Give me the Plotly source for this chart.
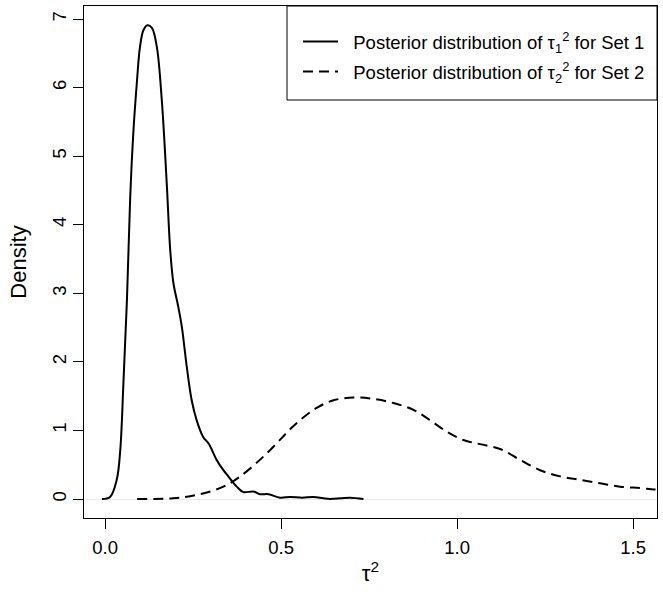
import plotly.graph_objects as go

# posterior density of tau^2, set 1
tau1_x = [-0.009, 0.014, 0.033, 0.043, 0.052, 0.062, 0.071, 0.080, 0.090, 0.099,
          0.109, 0.120, 0.133, 0.147, 0.161, 0.175, 0.185, 0.194, 0.208, 0.218,
          0.232, 0.246, 0.260, 0.279, 0.294, 0.317, 0.336, 0.350, 0.374, 0.393,
          0.421, 0.440, 0.464, 0.497, 0.526, 0.560, 0.592, 0.620, 0.639, 0.670,
          0.696, 0.734]
tau1_y = [0.00, 0.03, 0.28, 0.71, 1.69, 2.90, 4.36, 5.33, 6.06, 6.59,
          6.84, 6.91, 6.87, 6.59, 5.82, 4.61, 3.63, 3.15, 2.80, 2.51,
          1.93, 1.44, 1.15, 0.90, 0.81, 0.57, 0.42, 0.33, 0.18, 0.10,
          0.11, 0.07, 0.07, 0.02, 0.03, 0.02, 0.03, 0.01, 0.00, 0.01,
          0.02, 0.00]

# posterior density of tau^2, set 2
tau2_x = [0.091, 0.193, 0.270, 0.336, 0.384, 0.450, 0.500, 0.526, 0.554, 0.601,
          0.649, 0.706, 0.762, 0.819, 0.876, 0.923, 0.971, 1.018, 1.065, 1.122,
          1.179, 1.236, 1.293, 1.349, 1.406, 1.463, 1.520, 1.560, 1.600]
tau2_y = [0.00, 0.01, 0.07, 0.18, 0.33, 0.62, 0.88, 1.02, 1.15, 1.33,
          1.44, 1.48, 1.46, 1.40, 1.30, 1.15, 0.98, 0.86, 0.80, 0.73,
          0.57, 0.42, 0.33, 0.28, 0.23, 0.18, 0.16, 0.14, 0.13]

x_ticks = [0.0, 0.5, 1.0, 1.5]
x_labels = ["0.0", "0.5", "1.0", "1.5"]
y_ticks = [0, 1, 2, 3, 4, 5, 6, 7]

font = "Liberation Sans, Arial, Helvetica, sans-serif"
fs = 18.5
gap = "&nbsp;&nbsp;"  # extra room between legend key and text

fig = go.Figure()
fig.add_trace(go.Scatter(x=tau1_x, y=tau1_y, mode="lines", line_shape="spline",
                         name=gap + "Posterior distribution of τ<sub>1</sub><sup>2</sup> for Set 1",
                         legendgroup="a",
                         line=dict(color="black", width=2)))
fig.add_trace(go.Scatter(x=tau2_x, y=tau2_y, mode="lines", line_shape="spline",
                         name=gap + "Posterior distribution of τ<sub>2</sub><sup>2</sup> for Set 2",
                         legendgroup="b",
                         line=dict(color="black", width=2, dash="10px,6px")))

# legend frame
fig.add_shape(type="rect", xref="paper", yref="paper",
              x0=(287 - 84) / 573, x1=1, y0=(518 - 100) / 512, y1=1,
              line=dict(color="black", width=1), fillcolor="white", layer="below")

fig.update_layout(
    width=663, height=604,
    margin=dict(l=84, r=6, t=6, b=86),
    plot_bgcolor="white", paper_bgcolor="white",
    font=dict(family=font, size=fs, color="black"),
    showlegend=True,
    legend=dict(x=(298 - 84) / 573, y=(518 - 23) / 512, xanchor="left", yanchor="top",
                bgcolor="rgba(0,0,0,0)", borderwidth=0, itemwidth=35,
                tracegroupgap=3, font=dict(family=font, size=fs)),
    xaxis=dict(range=[-0.06, 1.568], tickvals=x_ticks, ticktext=x_labels,
               showgrid=False, zeroline=False, showline=True, mirror=True,
               linecolor="black", linewidth=1, ticks="outside", ticklen=10,
               tickcolor="black", ticklabelstandoff=3, automargin=False,
               title=dict(text="τ<sup>2</sup>", standoff=8)),
    yaxis=dict(range=[-0.277, 7.19], tickvals=y_ticks, tickangle=-90,
               showgrid=False, zeroline=True, zerolinecolor="#e8e8e8", zerolinewidth=1,
               showline=True, mirror=True, automargin=False,
               linecolor="black", linewidth=1, ticks="outside", ticklen=10,
               tickcolor="black", ticklabelstandoff=0,
               title=dict(text="Density", standoff=15)),
)

# drop the default page margin so the figure sits at the window's corner
fig.write_html("out.html", config={"displayModeBar": False},
               post_script="document.body.style.margin='0';")
